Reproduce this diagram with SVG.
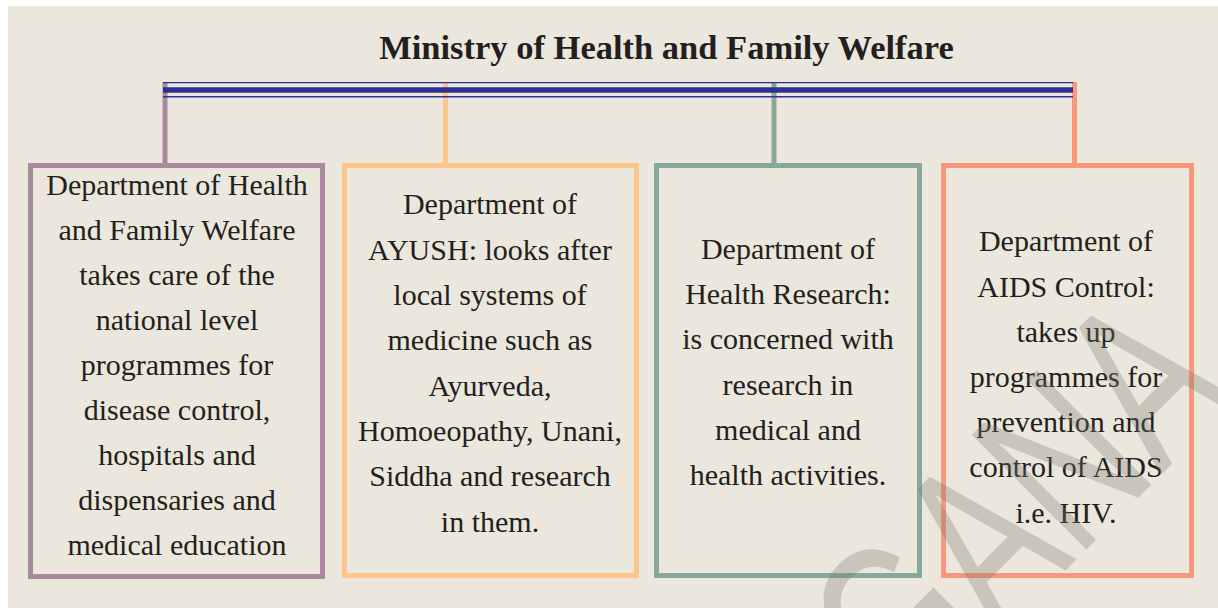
<svg xmlns="http://www.w3.org/2000/svg" width="1218" height="608" viewBox="0 0 1218 608">
<style>
.bg{fill:#ebe7dc}
.box{fill:none;stroke-width:5}
.t{font-family:"Liberation Serif","Times New Roman",serif;font-size:30px;fill:#231f20;text-anchor:middle}
.title{font-family:"Liberation Serif","Times New Roman",serif;font-size:34.5px;font-weight:bold;fill:#231f20;text-anchor:middle}
.v{stroke-width:5;fill:none}
.wm{font-family:"Liberation Sans",Arial,sans-serif;font-size:205px;fill:#7a766e;fill-opacity:0.3}
</style>
<rect x="0" y="0" width="1218" height="608" fill="#ffffff"/>
<rect class="bg" x="8" y="6" width="1210" height="602"/>
<text class="title" x="666.5" y="59">Ministry of Health and Family Welfare</text>
<g id="connectors">
<line class="v" x1="165" y1="82" x2="165" y2="166" stroke="#a8899e"/>
<line class="v" x1="445.5" y1="82" x2="445.5" y2="166" stroke="#fdc78b"/>
<line class="v" x1="774" y1="82" x2="774" y2="166" stroke="#87a89c"/>
<line class="v" x1="1074.5" y1="82" x2="1074.5" y2="166" stroke="#f7987b"/>
<g stroke="#2e3191" fill="none">
<line x1="163" y1="82.6" x2="1073" y2="82.6" stroke-width="1.4"/>
<line x1="163" y1="90" x2="1073" y2="90" stroke-width="5.4"/>
<line x1="163" y1="96.8" x2="1073" y2="96.8" stroke-width="1.4"/>
</g>
</g>
<g id="node-health">
<rect class="box" x="30.5" y="165.5" width="292" height="411" stroke="#a8899e"/>
<text class="t" x="177" y="195">Department of Health</text>
<text class="t" x="177" y="240">and Family Welfare</text>
<text class="t" x="177" y="285">takes care of the</text>
<text class="t" x="177" y="330">national level</text>
<text class="t" x="177" y="375">programmes for</text>
<text class="t" x="177" y="420">disease control,</text>
<text class="t" x="177" y="465">hospitals and</text>
<text class="t" x="177" y="510">dispensaries and</text>
<text class="t" x="177" y="555">medical education</text>
</g>
<g id="node-ayush">
<rect class="box" x="344.5" y="165.5" width="292" height="410" stroke="#fdc78b"/>
<text class="t" x="490" y="214">Department of</text>
<text class="t" x="490" y="259.5">AYUSH: looks after</text>
<text class="t" x="490" y="305">local systems of</text>
<text class="t" x="490" y="350">medicine such as</text>
<text class="t" x="490" y="395.5">Ayurveda,</text>
<text class="t" x="490" y="441">Homoeopathy, Unani,</text>
<text class="t" x="490" y="486">Siddha and research</text>
<text class="t" x="490" y="531.5">in them.</text>
</g>
<g id="node-research">
<rect class="box" x="656.5" y="165.5" width="263" height="410" stroke="#87a89c"/>
<text class="t" x="788" y="258.5">Department of</text>
<text class="t" x="788" y="304">Health Research:</text>
<text class="t" x="788" y="349">is concerned with</text>
<text class="t" x="788" y="394.5">research in</text>
<text class="t" x="788" y="440">medical and</text>
<text class="t" x="788" y="485">health activities.</text>
</g>
<g id="node-aids">
<rect class="box" x="943.5" y="165.5" width="248" height="410" stroke="#f7987b"/>
<text class="t" x="1066" y="251">Department of</text>
<text class="t" x="1066" y="296.5">AIDS Control:</text>
<text class="t" x="1066" y="342">takes up</text>
<text class="t" x="1066" y="387">programmes for</text>
<text class="t" x="1066" y="432">prevention and</text>
<text class="t" x="1066" y="477">control of AIDS</text>
<text class="t" x="1066" y="522.5">i.e. HIV.</text>
</g>
<text class="wm" transform="translate(1238,398) rotate(-45) scale(0.8,1.15)" text-anchor="end">TELANGANA</text>
</svg>
